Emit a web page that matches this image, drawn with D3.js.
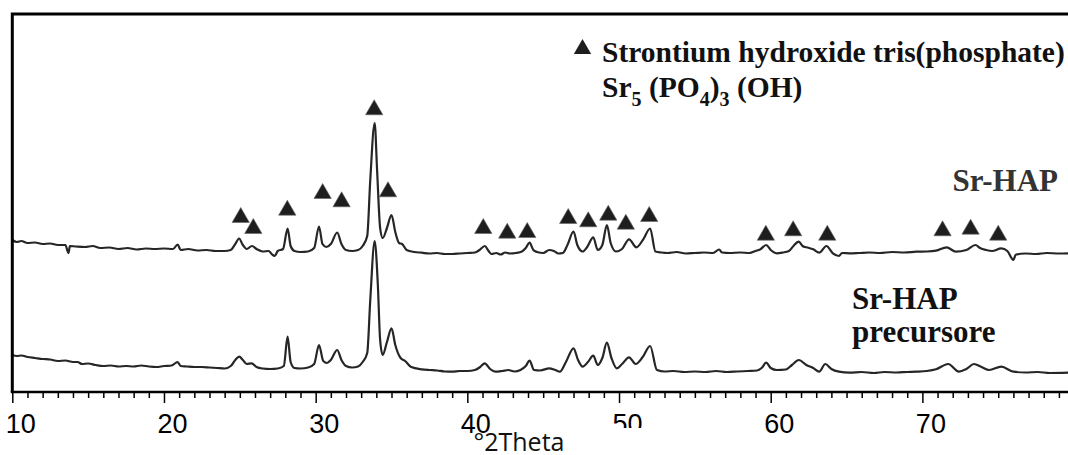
<!DOCTYPE html>
<html>
<head>
<meta charset="utf-8">
<script src="https://cdn.jsdelivr.net/npm/d3@7"></script>
<style>
  body { margin: 0; background: #fff; }
  svg { display: block; }
</style>
</head>
<body>
<div id="chart"></div>
<script>
// XRD patterns, [2theta, intensity (a.u.)]
const srHap = [
  [10.0,37],[10.3,35],[10.6,36],[11.0,34],[11.5,34.5],[12.0,33],[12.5,33.5],[13.0,32],[13.5,32],[13.7,24],[13.8,31],
  [14.2,30.5],[14.8,30],[15.3,31],[15.8,29],[16.4,29.5],[17.0,28],[17.6,29],[18.2,27.5],[18.8,28.5],[19.4,28],
  [20.0,28.5],[20.6,28],[20.9,32.5],[21.1,27],[21.6,28],[22.2,26.5],[22.8,27],[23.4,26],[24.0,26],[24.4,27],
  [24.7,33],[24.95,38.5],[25.2,32],[25.45,28],[25.8,31],[26.1,28],[26.5,25.5],[26.9,26],[27.1,23],[27.3,21],
  [27.5,26],[27.85,28],[28.15,48.5],[28.35,31],[28.6,26],[29.0,25],[29.5,25.5],[29.9,29],[30.22,50.5],[30.45,33],
  [30.7,30],[31.0,33],[31.42,44.5],[31.7,33],[32.0,27],[32.4,26],[32.8,27],[33.1,31],[33.4,41],[33.6,97],
  [33.89,154],[34.05,107],[34.25,49],[34.42,39],[34.7,49],[35.0,62],[35.25,45],[35.5,34],[35.7,33],[36.0,27],
  [36.5,25],[37.0,24.3],[37.5,23.5],[38.0,24],[38.5,23],[39.0,23],[39.5,23.5],[40.0,24],[40.5,24.5],[40.8,27],
  [41.15,31],[41.4,26],[41.6,23],[41.9,24],[42.2,22.5],[42.5,24.5],[42.8,23.5],[43.2,24],[43.6,25.5],[43.85,29],
  [44.1,34.3],[44.35,27],[44.6,25],[45.0,24],[45.4,27],[45.7,26],[46.0,23.5],[46.3,24],[46.6,32],[47.0,45.5],
  [47.25,32],[47.6,25.5],[47.9,30],[48.3,39.7],[48.6,27],[48.9,32],[49.2,52],[49.45,34],[49.8,25.5],[50.2,28],
  [50.66,37.7],[51.15,29.7],[51.6,37.7],[52.05,48.5],[52.4,25.5],[52.8,24.5],[53.2,24],[53.8,25],[54.4,23.5],
  [55.0,24],[55.6,24.5],[56.2,24],[56.6,27.5],[56.8,24.5],[57.3,24],[58.0,24.5],[58.6,24],[59.0,26],[59.3,27.5],
  [59.7,32],[60.0,27],[60.4,23.7],[60.8,24.5],[61.2,26],[61.5,31],[61.85,35.3],[62.1,31],[62.35,29.7],[62.8,27.7],
  [63.2,24.3],[63.67,31],[64.1,23.7],[64.5,21],[64.7,24],[65.2,23.7],[65.8,24],[66.5,24.5],[67.2,24],[68.0,25],
  [68.8,24.5],[69.6,25.3],[70.3,25.5],[70.9,26.3],[71.6,29.7],[72.2,25.3],[72.9,27],[73.5,32],[73.8,29],[74.2,27],
  [74.6,26],[75.2,28.7],[75.6,26],[76.0,17],[76.15,22.3],[76.8,23.5],[77.5,23],[78.2,24],[79.0,23.5],[79.6,23.7]
];

const precursor = [
  [10.0,37],[10.3,36],[10.6,36.5],[11.0,35],[11.5,34],[12.0,33],[12.5,32.5],[13.0,31],[13.5,31.5],[14.0,30],
  [14.3,30],[14.6,28],[15.0,28.5],[15.5,27],[16.0,26],[16.5,26.5],[17.0,25.5],[17.5,26],[18.0,25.5],[18.5,26.5],
  [19.0,25.5],[19.5,25],[20.0,26],[20.5,26.5],[20.9,30],[21.1,26],[21.5,25.5],[22.0,25],[22.5,25],[23.0,24.5],
  [23.5,24],[24.0,23.5],[24.4,26],[24.7,32],[24.96,35.3],[25.2,32],[25.45,28],[25.78,28.7],[26.1,25],[26.5,23.5],
  [27.0,23],[27.5,23.5],[27.9,26],[28.15,55.3],[28.35,30],[28.6,24],[29.0,23.5],[29.5,24.5],[29.9,28],[30.22,47],
  [30.5,31],[30.75,29],[31.0,32],[31.42,42],[31.7,32],[32.0,26],[32.4,24.5],[32.8,25.5],[33.1,30],[33.4,39],
  [33.6,92],[33.89,151],[34.1,107],[34.25,52],[34.42,37],[34.7,50],[35.0,63.7],[35.25,47],[35.6,34],[35.9,31],
  [36.3,25],[37.0,22.7],[37.5,22],[38.0,21.5],[38.5,20.5],[39.0,20.3],[39.5,21],[40.0,21],[40.5,22],[40.85,25],
  [41.15,28.7],[41.5,23],[41.85,20.3],[42.3,21],[42.7,22],[43.1,20.5],[43.5,22],[43.85,26],[44.1,31.3],[44.4,22],
  [44.8,21.5],[45.4,23.7],[45.8,22],[46.1,20.3],[46.5,30],[47.0,43.7],[47.3,32],[47.6,25.3],[47.95,30],[48.3,36.3],
  [48.6,27],[48.9,34],[49.2,49.3],[49.5,34],[49.85,23.7],[50.2,28],[50.66,34.7],[51.1,28],[51.55,34.7],[52.05,46],
  [52.5,22],[53.0,20.5],[53.6,21],[54.3,20],[55.0,20.5],[55.7,20],[56.4,21],[57.1,20],[57.8,20.5],[58.5,21],
  [59.1,21.5],[59.4,24],[59.7,29.3],[60.0,24],[60.4,22],[61.0,22.5],[61.4,27],[61.85,32],[62.35,27],[62.8,24],
  [63.2,20.3],[63.6,28],[64.0,23],[64.5,20.3],[65.2,19.3],[66.0,20],[66.8,19],[67.5,20],[68.3,19.5],[69.0,20],
  [69.6,20.3],[70.3,21],[70.9,22.7],[71.7,28],[72.4,20.3],[72.9,23],[73.4,28],[73.9,25],[74.4,22],[75.2,25.3],
  [76.0,20.3],[76.8,19.5],[77.6,20],[78.4,19],[79.6,19.3]
];

// vertical shift of the Sr-HAP pattern above the precursor one
const srHapOffset = 115;

// reflection markers (triangles) for Sr5(PO4)3(OH)
const markerTheta = [25.06, 25.89, 28.13, 30.46, 31.71, 33.86, 34.77, 41.05, 42.63, 43.95, 46.65,
  47.97, 49.29, 50.45, 51.99, 59.68, 61.48, 63.73, 71.33, 73.18, 75.0];
const markerLevel = [174.5, 163.5, 181.8, 198.5, 190.2, 282.2, 200.2, 163.5, 158.8, 159.5, 173.5,
  170.2, 176.8, 167.8, 175.5, 156.8, 161.2, 156.8, 161.2, 162.8, 156.8];

const majorTicks = [10, 20, 30, 40, 50, 60, 70];
const minorTicks = d3.range(11, 80).filter(d => d % 10 !== 0);
const xTitle = '°2Theta';
const legendText = 'Strontium hydroxide tris(phosphate)';

const width = 1068, height = 455;
const frameLeft = 12.3, frameTop = 14, axisY = 392;

const x = d3.scaleLinear().domain([10, 79.6]).range([frameLeft, width]);
const y = d3.scaleLinear().domain([0, 380]).range([axisY, 12]);

const svg = d3.select('#chart').append('svg').attr('width', width).attr('height', height);

const line = d3.line().x(d => x(d[0])).y(d => y(d[1])).curve(d3.curveMonotoneX);

svg.append('path')
  .datum(precursor)
  .attr('d', line)
  .attr('fill', 'none')
  .attr('stroke', '#262626')
  .attr('stroke-width', 2.2)
  .attr('stroke-linejoin', 'round');

svg.append('path')
  .datum(srHap.map(d => [d[0], d[1] + srHapOffset]))
  .attr('d', line)
  .attr('fill', 'none')
  .attr('stroke', '#262626')
  .attr('stroke-width', 2.2)
  .attr('stroke-linejoin', 'round');

// triangles
const tri = d3.symbol().type(d3.symbolTriangle).size(130);
svg.selectAll('path.mark')
  .data(markerTheta)
  .enter()
  .append('path')
  .attr('class', 'mark')
  .attr('d', tri)
  .attr('transform', (d, i) => `translate(${x(d)},${y(markerLevel[i])})`)
  .attr('fill', '#1e1e1e')
  .attr('stroke', '#666')
  .attr('stroke-width', 0.6);

// frame: left and top lines
svg.append('path')
  .attr('d', `M${frameLeft},${axisY}V${frameTop}H${width + 2}`)
  .attr('fill', 'none')
  .attr('stroke', '#000')
  .attr('stroke-width', 3);

// x axis: minor then major ticks
svg.append('g')
  .attr('transform', `translate(0,${axisY})`)
  .call(d3.axisBottom(x).tickValues(minorTicks).tickSize(6).tickFormat(''))
  .call(g => g.select('.domain').remove())
  .call(g => g.selectAll('line').attr('stroke', '#000').attr('stroke-width', 1.5));

svg.append('g')
  .attr('transform', `translate(0,${axisY})`)
  .call(d3.axisBottom(x).tickValues(majorTicks).tickSize(11).tickFormat(d3.format('d')))
  .call(g => g.select('.domain').remove())
  .call(g => g.selectAll('line').attr('stroke', '#000').attr('stroke-width', 1.5))
  .call(g => g.selectAll('text')
    .attr('y', 41).attr('dy', 0).attr('dx', 8)
    .attr('fill', '#000')
    .style('font-family', '"Liberation Sans", Arial, sans-serif')
    .style('font-size', '27px'));

svg.append('line')
  .attr('x1', frameLeft - 1.5).attr('x2', width)
  .attr('y1', axisY).attr('y2', axisY)
  .attr('stroke', '#000').attr('stroke-width', 2.5);

// axis title box (its white fill overlaps the 50 label, as in the source)
svg.append('rect')
  .attr('x', 494).attr('y', 428).attr('width', 160).attr('height', 27)
  .attr('fill', '#fff');
svg.append('text')
  .attr('x', 519).attr('y', 451)
  .attr('text-anchor', 'middle')
  .attr('fill', '#111')
  .style('font-family', '"Open Sans", sans-serif')
  .style('font-size', '25px')
  .text(xTitle);

// legend
const serif = '"Liberation Serif", "Times New Roman", serif';
svg.append('path')
  .attr('d', d3.symbol().type(d3.symbolTriangle).size(130)())
  .attr('transform', 'translate(582.5,49)')
  .attr('fill', '#1e1e1e');

svg.append('text')
  .attr('x', 602).attr('y', 61.5)
  .attr('fill', '#111')
  .style('font-family', serif).style('font-weight', 'bold').style('font-size', '29.5px')
  .text(legendText);

const formula = svg.append('text')
  .attr('x', 602).attr('y', 96.5)
  .attr('fill', '#111')
  .style('font-family', serif).style('font-weight', 'bold').style('font-size', '29.5px');
[['Sr', 0], ['5', 1], [' (PO', 0], ['4', 1], [')', 0], ['3', 1], [' (OH)', 0]].forEach(([t, sub], i, arr) => {
  const prevSub = i > 0 ? arr[i - 1][1] : 0;
  formula.append('tspan')
    .attr('dy', sub && !prevSub ? 9 : (!sub && prevSub ? -9 : 0))
    .style('font-size', sub ? '20px' : null)
    .text(t);
});

// series labels
svg.append('text')
  .attr('x', 1058).attr('y', 190.5)
  .attr('text-anchor', 'end')
  .attr('fill', '#333')
  .style('font-family', serif).style('font-weight', 'bold').style('font-size', '31px')
  .text('Sr-HAP');

svg.append('text')
  .attr('x', 852).attr('y', 309)
  .attr('fill', '#111')
  .style('font-family', serif).style('font-weight', 'bold').style('font-size', '31px')
  .text('Sr-HAP');
svg.append('text')
  .attr('x', 852).attr('y', 341.5)
  .attr('fill', '#111')
  .style('font-family', serif).style('font-weight', 'bold').style('font-size', '31px')
  .text('precursore');
</script>
</body>
</html>
